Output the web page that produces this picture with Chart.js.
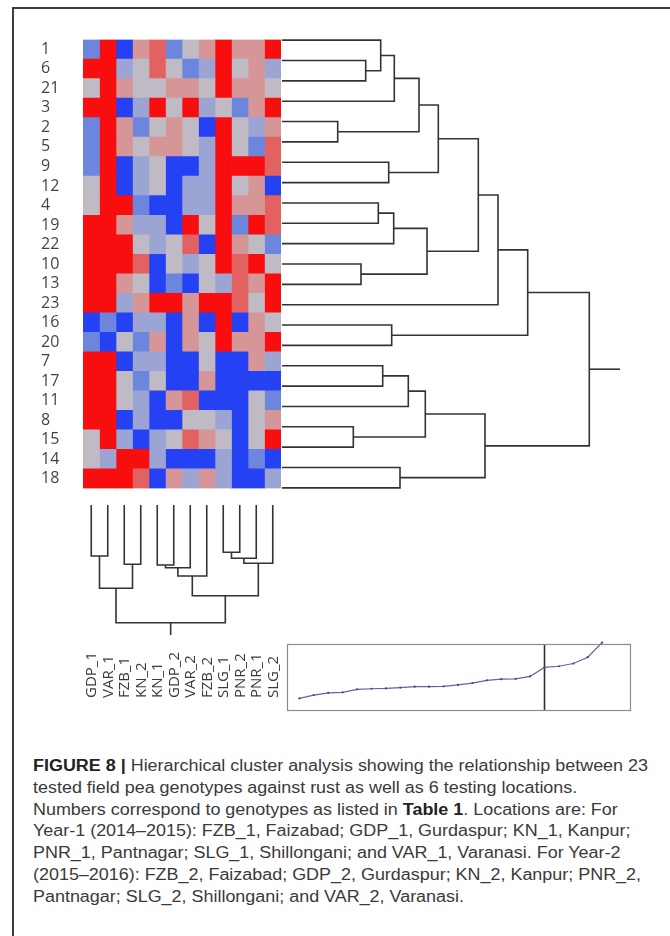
<!DOCTYPE html>
<html>
<head>
<meta charset="utf-8">
<script src="https://cdn.jsdelivr.net/npm/chart.js@4.4.0/dist/chart.umd.min.js"></script>
<style>
  body { margin: 0; background: #fff; width: 670px; height: 936px; position: relative; overflow: hidden; }
  .box { position: absolute; }
  #frame { position: absolute; left: 12px; top: 7px; width: 700px; height: 1000px; border-top: 2px solid #3c3c3c; border-left: 2px solid #3c3c3c; }
  #caption { position: absolute; left: 33px; top: 755px; font-family: "Liberation Sans", Arial, sans-serif; font-size: 16px; line-height: 21.8px; color: #3a3a3a; white-space: nowrap; transform-origin: left top; }
  #caption b { color: #222; }
</style>
</head>
<body>
<div id="frame"></div>
<div class="box" style="left:41px;top:30px;width:240px;height:468px"><canvas id="heat"></canvas></div>
<div class="box" style="left:282px;top:30px;width:340px;height:468px"><canvas id="rowTree"></canvas></div>
<div class="box" style="left:83px;top:505px;width:198px;height:200px"><canvas id="colTree"></canvas></div>
<div class="box" style="left:283px;top:640px;width:352px;height:75px"><canvas id="elbow"></canvas></div>
<div id="caption">
  <div><b>FIGURE 8 |</b> Hierarchical cluster analysis showing the relationship between 23</div>
  <div>tested field pea genotypes against rust as well as 6 testing locations.</div>
  <div>Numbers correspond to genotypes as listed in <b>Table 1</b>. Locations are: For</div>
  <div>Year-1 (2014–2015): FZB_1, Faizabad; GDP_1, Gurdaspur; KN_1, Kanpur;</div>
  <div>PNR_1, Pantnagar; SLG_1, Shillongani; and VAR_1, Varanasi. For Year-2</div>
  <div>(2015–2016): FZB_2, Faizabad; GDP_2, Gurdaspur; KN_2, Kanpur; PNR_2,</div>
  <div>Pantnagar; SLG_2, Shillongani; and VAR_2, Varanasi.</div>
</div>
<script>
// genotypes (rows, top to bottom) and locations (columns, left to right)
const rowLabels = ["1", "6", "21", "3", "2", "5", "9", "12", "4", "19", "22", "10", "13", "23", "16", "20", "7", "17", "11", "8", "15", "14", "18"];
const colLabels = ["GDP_1", "VAR_1", "FZB_1", "KN_2", "KN_1", "GDP_2", "VAR_2", "FZB_2", "SLG_1", "PNR_2", "PNR_1", "SLG_2"];

// cell levels, -3 (deep blue) .. 3 (deep red), one row per genotype
const cells = [
    [-2, 3, -3, 1, 2, -2, 0, 1, 3, 1, 1, 3],
    [3, 3, -1, 0, 2, 0, -2, -1, 3, 0, 1, -1],
    [0, 3, 1, 0, 0, 1, 1, 0, 3, 1, 1, 0],
    [3, 3, -3, -1, 3, 0, 3, -1, 0, -2, 1, 3],
    [-2, 3, 1, -2, 0, 1, 0, -3, 3, 0, -1, 1],
    [-2, 3, 1, 0, 1, 1, 0, -1, 3, 0, -2, 2],
    [-2, 3, -3, -1, 0, -3, -3, -1, 3, 3, 3, 2],
    [0, 3, -3, -1, 0, -3, -1, -1, 3, 0, 1, -3],
    [0, 3, 3, -2, -3, -3, -1, -1, 3, 1, 1, 2],
    [3, 3, 1, -1, -1, -3, 3, 0, 3, -2, 3, 2],
    [3, 3, 3, 0, -1, 0, 2, -3, 3, 1, 0, -2],
    [3, 3, 3, 2, -3, 0, -1, 0, 3, 2, 3, 0],
    [3, 3, 1, 0, -3, -2, -3, 0, -1, 2, 1, 3],
    [3, 3, -1, 1, 3, 3, 1, 3, 3, 2, 0, 3],
    [-3, -2, -3, -1, -1, -3, 1, -3, 3, -3, 1, 0],
    [-2, -3, 0, -2, 1, -3, 1, 0, 3, 1, 1, 3],
    [3, 3, -3, -1, -1, -3, -3, 0, -3, -3, 1, -1],
    [3, 3, 0, -2, 0, -3, -3, 1, -3, -3, -3, -3],
    [3, 3, 0, -1, -3, 1, 2, -3, -3, -3, 0, -2],
    [3, 3, -3, -1, -3, -3, 0, 0, -1, -3, 0, 1],
    [0, 3, -1, -3, -1, 0, 2, 1, 0, -3, 0, 3],
    [0, -1, 3, 3, -1, -3, -3, -3, -1, -3, -2, -3],
    [3, 3, 3, 2, -3, 1, -1, 1, -1, -3, -3, -1]
];

// row tree merges: [nodeA, nodeB, height]; leaves are 0..22, new nodes numbered from 23
const rowMerges = [
    [1, 2, 83.7], [0, 23, 98.7], [24, 3, 112.3], [4, 5, 55.7], [25, 26, 137],
    [6, 7, 106.7], [27, 28, 156.3], [8, 9, 96.3], [30, 10, 111.7], [11, 12, 79],
    [31, 32, 145], [29, 33, 196.3], [34, 13, 216], [14, 15, 109.7], [35, 36, 245.7],
    [16, 17, 100.7], [38, 18, 126.3], [19, 20, 71.3], [39, 40, 143.3], [21, 22, 118],
    [41, 42, 203], [37, 43, 307.3]
];
const rowStubEnd = 338;

// column tree merges; leaves 0..11, new nodes from 12
const colMerges = [
    [0, 1, 51], [2, 3, 59.3], [12, 13, 83.3], [4, 5, 60], [15, 6, 62.7],
    [16, 7, 71], [8, 9, 47.3], [18, 10, 53.3], [19, 11, 58.3], [17, 20, 90.7],
    [14, 21, 117.7]
];
const colStubEnd = 130;

// sorted fusion levels shown in the small panel, and the cut position
const fusionLevels = [42, 53, 60, 62, 72, 74, 75, 78, 81, 81, 82, 87, 93, 102, 106, 107, 115, 145, 149, 158, 179, 228];
const cutStep = 18;

const palette = {
    "-3": "rgb(36,66,244)",
    "-2": "rgb(108,134,222)",
    "-1": "rgb(156,164,212)",
    "0": "rgb(192,186,196)",
    "1": "rgb(214,150,152)",
    "2": "rgb(226,98,98)",
    "3": "rgb(248,14,14)"
};
const inkColor = "#333";
const rowFont = { family: "Open Sans", size: 16 };
const colFont = { family: "Open Sans", size: 15 };

Chart.defaults.animation = false;
Chart.defaults.plugins.legend.display = false;
Chart.defaults.plugins.tooltip.enabled = false;
Chart.defaults.maintainAspectRatio = false;

// Heatmap: horizontal stacked bars, one dataset per location column
new Chart("heat", {
    type: "bar",
    data: {
        labels: rowLabels,
        datasets: colLabels.map((col, j) => ({
            label: col,
            data: rowLabels.map(() => 1),
            backgroundColor: cells.map(row => palette[row[j]]),
            borderWidth: 0,
            barPercentage: 1,
            categoryPercentage: 1
        }))
    },
    options: {
        indexAxis: "y",
        layout: { padding: 0 },
        scales: {
            x: { stacked: true, min: 0, max: colLabels.length, display: false },
            y: {
                stacked: true,
                grid: { display: false },
                border: { display: false },
                ticks: { color: "#444", font: rowFont, crossAlign: "far", padding: 0, autoSkip: false },
                afterFit: scale => { scale.width = 42; }
            }
        }
    }
});

// Turn merge list into U-shaped polylines: [[pos, height], ...]
function buildTree(leafCount, merges, stubEnd) {
    const nodes = [];
    for (let i = 0; i < leafCount; i++) nodes.push({ pos: i, h: 0 });
    const lines = [];
    merges.forEach(([a, b, h]) => {
        const na = nodes[a], nb = nodes[b];
        lines.push([[na.pos, na.h], [na.pos, h], [nb.pos, h], [nb.pos, nb.h]]);
        nodes.push({ pos: (na.pos + nb.pos) / 2, h: h });
    });
    const root = nodes[nodes.length - 1];
    lines.push([[root.pos, root.h], [root.pos, stubEnd]]);
    return lines;
}

function treeDatasets(lines, horizontal) {
    return lines.map(pts => ({
        data: pts.map(([pos, h]) => horizontal ? { x: h, y: pos } : { x: pos, y: h }),
        showLine: true,
        borderColor: inkColor,
        borderWidth: 1.6,
        pointRadius: 0,
        clip: false
    }));
}

// Row dendrogram on the right of the heatmap
new Chart("rowTree", {
    type: "scatter",
    data: { datasets: treeDatasets(buildTree(rowLabels.length, rowMerges, rowStubEnd), true) },
    options: {
        layout: { padding: 0 },
        scales: {
            x: { type: "linear", min: 0, max: 340, display: false },
            y: { type: "linear", min: -0.5, max: rowLabels.length - 0.5, reverse: true, display: false }
        }
    }
});

// Column labels written upward under the column tree
const columnLabelPlugin = {
    id: "columnLabels",
    afterDraw(chart) {
        const ctx = chart.ctx;
        const xs = chart.scales.x;
        ctx.save();
        ctx.fillStyle = "#3a3a3a";
        ctx.font = colFont.size + "px '" + colFont.family + "'";
        ctx.textAlign = "left";
        ctx.textBaseline = "middle";
        colLabels.forEach((lab, i) => {
            ctx.save();
            ctx.translate(xs.getPixelForValue(i) + 0.5, chart.height - 7);
            ctx.rotate(-Math.PI / 2);
            ctx.fillText(lab, 0, 0);
            ctx.restore();
        });
        ctx.restore();
    }
};

new Chart("colTree", {
    type: "scatter",
    data: { datasets: treeDatasets(buildTree(colLabels.length, colMerges, colStubEnd), false) },
    options: {
        layout: { padding: { left: 0, right: 0, top: 0, bottom: 69 } },
        scales: {
            x: { type: "linear", min: -0.5, max: colLabels.length - 0.5, display: false },
            y: { type: "linear", min: 0, max: 131, reverse: true, display: false }
        }
    },
    plugins: [columnLabelPlugin]
});

// Small fusion-level panel with the cut line
const framePlugin = {
    id: "frameBox",
    afterDraw(chart) {
        const a = chart.chartArea;
        const ctx = chart.ctx;
        ctx.save();
        ctx.strokeStyle = "#8c8c8c";
        ctx.lineWidth = 1.2;
        ctx.strokeRect(a.left + 0.5, a.top + 0.5, a.right - a.left - 1, a.bottom - a.top - 1);
        ctx.restore();
    }
};

new Chart("elbow", {
    type: "scatter",
    data: {
        datasets: [
            {
                data: fusionLevels.map((v, i) => ({ x: i + 1, y: v })),
                showLine: true,
                borderColor: "#5a66a6",
                borderWidth: 1.2,
                pointRadius: 1.1,
                pointBackgroundColor: "#3c4882",
                pointBorderWidth: 0,
                clip: false
            },
            {
                data: [{ x: cutStep, y: 0 }, { x: cutStep, y: 223 }],
                showLine: true,
                borderColor: "#2e2e2e",
                borderWidth: 1.6,
                pointRadius: 0
            }
        ]
    },
    options: {
        layout: { padding: 0 },
        scales: {
            x: { type: "linear", min: 0.14, max: 24, display: false },
            y: { type: "linear", min: 0, max: 223, display: false }
        }
    },
    plugins: [framePlugin]
});

// Stretch caption so its first line spans the same width as in the figure
const caption = document.getElementById("caption");
const firstLine = caption.firstElementChild;
const range = document.createRange();
range.selectNodeContents(firstLine);
const w = range.getBoundingClientRect().width;
caption.style.transform = "scaleX(" + (615 / w) + ")";
</script>
</body>
</html>
